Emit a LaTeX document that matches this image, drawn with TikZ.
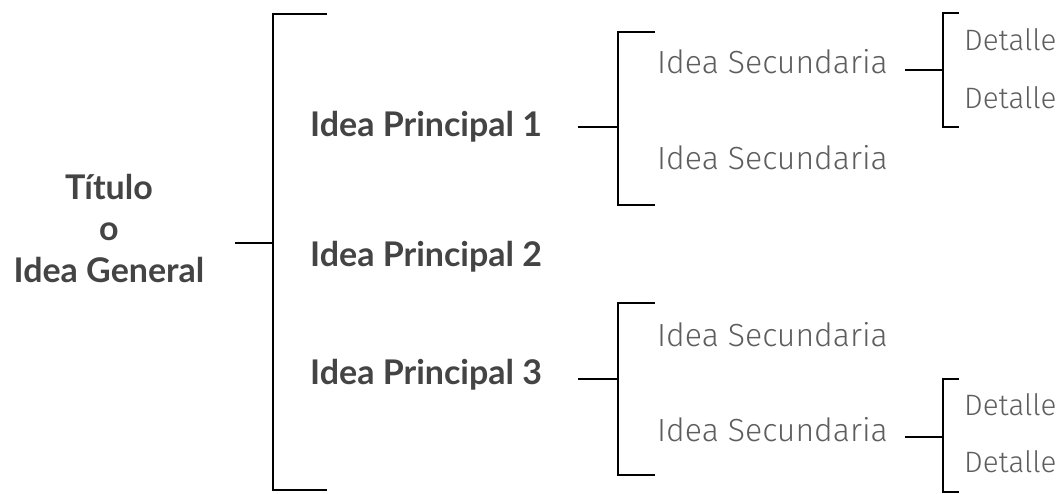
\documentclass[tikz,border=0pt]{standalone}
\usepackage{fontspec}
\setmainfont{Lato}
\newfontfamily\thinfont{Fira Sans Light}
\definecolor{boldtxt}{HTML}{444444}
\definecolor{thintxt}{HTML}{5E5E5E}
\begin{document}
\begin{tikzpicture}[x=1pt,y=-1pt,
  brk/.style={line width=1.8pt, black},
  mainidea/.style={anchor=west, inner sep=0pt, text=boldtxt, font=\fontsize{34}{40}\selectfont\bfseries},
  titletxt/.style={inner sep=0pt, text=boldtxt, align=center, font=\fontsize{34}{41.5}\selectfont\bfseries},
  secidea/.style={anchor=west, inner sep=0pt, text=thintxt, font=\thinfont\fontsize{32}{36}\selectfont},
  detail/.style={anchor=west, inner sep=0pt, text=thintxt, font=\thinfont\fontsize{29.5}{34}\selectfont}]
\useasboundingbox (0,0) rectangle (1059,493);
\fill[white] (0,0) rectangle (1059,493);

% texts
\node[titletxt] (title) at (109,228) {Título\\o\\Idea General};
\node[mainidea] (p1) at (310,127) {Idea Principal 1};
\node[mainidea] (p2) at (310,257) {Idea Principal 2};
\node[mainidea] (p3) at (310,375) {Idea Principal 3};
\node[secidea] (s11) at (657,62) {Idea Secundaria};
\node[secidea] (s12) at (657,158) {Idea Secundaria};
\node[secidea] (s31) at (657,335) {Idea Secundaria};
\node[secidea] (s32) at (657,430) {Idea Secundaria};
\node[detail] (d1) at (964,40) {Detalle};
\node[detail] (d2) at (964,98) {Detalle};
\node[detail] (d3) at (964,405) {Detalle};
\node[detail] (d4) at (964,462) {Detalle};

% main bracket
\coordinate (m0) at (235,243);
\coordinate (mj) at (273,243);
\coordinate (mt) at (273,14);
\coordinate (mb) at (273,490);
\coordinate (mte) at (327,14);
\coordinate (mbe) at (327,490);
\draw[brk] (m0) -- (mj);
\draw[brk] (mte) -- (mt) -- (mb) -- (mbe);

% bracket 1
\coordinate (a0) at (578,127);
\coordinate (aj) at (618,127);
\coordinate (at) at (618,32);
\coordinate (ab) at (618,205);
\coordinate (ate) at (655,32);
\coordinate (abe) at (655,205);
\draw[brk] (a0) -- (aj);
\draw[brk] (ate) -- (at) -- (ab) -- (abe);

% bracket 3
\coordinate (b0) at (578,379);
\coordinate (bj) at (618,379);
\coordinate (bt) at (618,303);
\coordinate (bb) at (618,475);
\coordinate (bte) at (655,303);
\coordinate (bbe) at (655,475);
\draw[brk] (b0) -- (bj);
\draw[brk] (bte) -- (bt) -- (bb) -- (bbe);

% detail bracket 1
\coordinate (c0) at (905,70);
\coordinate (cj) at (943,70);
\coordinate (ct) at (943,13);
\coordinate (cb) at (943,127);
\coordinate (cte) at (959,13);
\coordinate (cbe) at (959,127);
\draw[brk] (c0) -- (cj);
\draw[brk] (cte) -- (ct) -- (cb) -- (cbe);

% detail bracket 2
\coordinate (e0) at (905,437);
\coordinate (ej) at (943,437);
\coordinate (et) at (943,379);
\coordinate (eb) at (943,492);
\coordinate (ete) at (959,379);
\coordinate (ebe) at (959,492);
\draw[brk] (e0) -- (ej);
\draw[brk] (ete) -- (et) -- (eb) -- (ebe);
\end{tikzpicture}
\end{document}
